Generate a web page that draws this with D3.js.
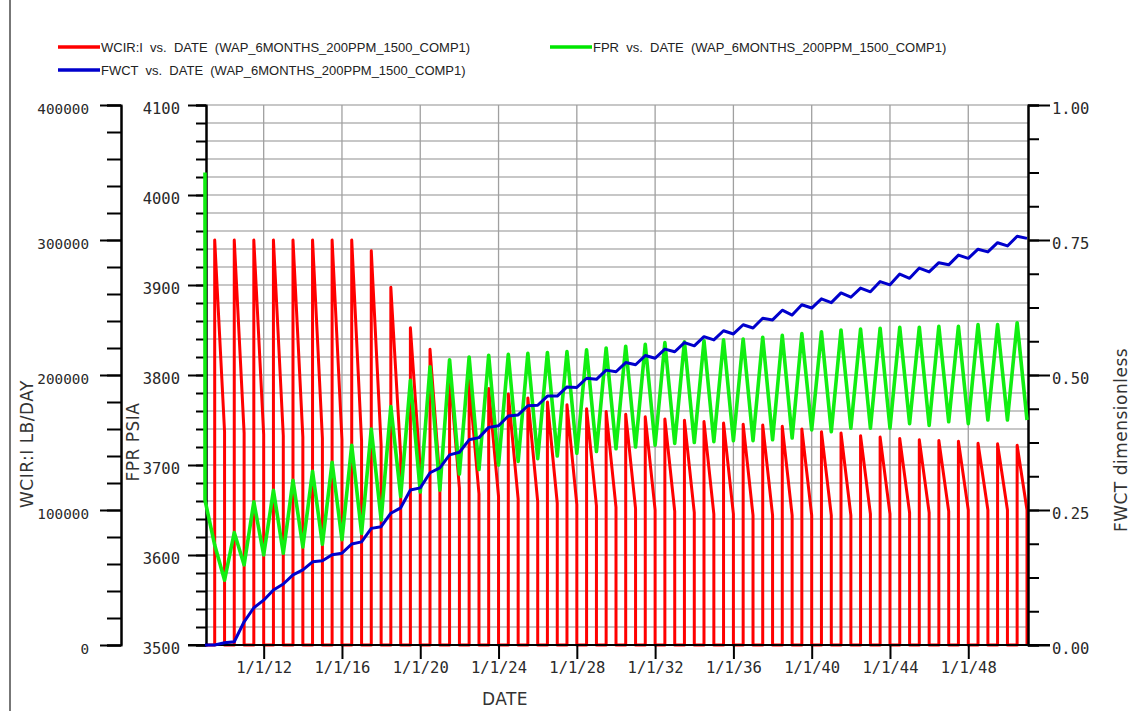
<!DOCTYPE html>
<html>
<head>
<meta charset="utf-8">
<script src="https://cdn.jsdelivr.net/npm/d3@7"></script>
<style>
  body { margin: 0; background: #fff; }
  svg { display: block; }
  .tick text { font-family: "DejaVu Sans Mono", monospace; fill: #2a2a2a; }
  .title { font-family: "DejaVu Sans", sans-serif; font-size: 17px; fill: #333; letter-spacing: 0.5px; }
  .legend text { font-family: "Liberation Sans", Arial, sans-serif; font-size: 13px; fill: #222; white-space: pre; }
</style>
</head>
<body>
<div id="wrapper"></div>
<script>
// one injection cycle per year: rate jumps up on 1 Jul, declines, shut in on 1 Jan
const cycleYears = [2009, 2010, 2011, 2012, 2013, 2014, 2015, 2016, 2017, 2018, 2019, 2020, 2021, 2022,
  2023, 2024, 2025, 2026, 2027, 2028, 2029, 2030, 2031, 2032, 2033, 2034, 2035, 2036,
  2037, 2038, 2039, 2040, 2041, 2042, 2043, 2044, 2045, 2046, 2047, 2048, 2049, 2050];
const wcirPeak = [300000, 300000, 300000, 300000, 300000, 300000, 300000, 300000, 292000, 265000,
  235000, 219000, 205000, 196000, 190000, 186000, 183000, 180000, 178000, 175000,
  173000, 171000, 169000, 167500, 166500, 165500, 164500, 163500, 163000, 162000,
  160000, 158000, 157000, 155000, 154000, 153000, 152000, 151500, 151000, 149500,
  149000, 148000];
const wcirEnd = [158000, 157000, 156000, 155000, 154000, 153000, 152000, 151000, 148000, 140000,
  130000, 122000, 116000, 112000, 110000, 108000, 106000, 105000, 104000, 103000,
  102000, 101000, 100000, 99000, 98000, 97000, 97000, 96000, 96000, 96000,
  96000, 96000, 96000, 97000, 97000, 98000, 98000, 99000, 100000, 100000,
  100000, 100000];

// FPR and FWCT every half year from 1 Jan 2009 to 1 Jan 2051 (Jan, Jul per row)
const fprInitial = 4025;
const fprHalfYear = [
  3661, 3611, 3572, 3625, 3589, 3659, 3600, 3672, 3602, 3683,
  3609, 3693, 3612, 3703, 3617, 3722, 3624, 3740, 3639, 3765,
  3665, 3794, 3670, 3809, 3672, 3817, 3690, 3820, 3695, 3822,
  3700, 3823, 3704, 3824, 3707, 3825, 3710, 3826, 3713, 3828,
  3715, 3830, 3718, 3832, 3720, 3834, 3722, 3836, 3724, 3837,
  3725, 3838, 3726, 3839, 3727, 3840, 3727, 3842, 3728, 3844,
  3730, 3846, 3739, 3848, 3737, 3850, 3741, 3851, 3741, 3852,
  3741, 3853, 3746, 3853, 3744, 3854, 3748, 3854, 3746, 3856,
  3750, 3856, 3750, 3858, 3750];
const fwctHalfYear = [
  0, 0, 0.004, 0.006, 0.043, 0.069, 0.083, 0.102, 0.113, 0.130,
  0.139, 0.154, 0.156, 0.167, 0.170, 0.187, 0.191, 0.216, 0.219, 0.244,
  0.254, 0.287, 0.291, 0.319, 0.328, 0.352, 0.357, 0.380, 0.384, 0.403,
  0.406, 0.424, 0.426, 0.443, 0.444, 0.461, 0.461, 0.478, 0.477, 0.494,
  0.492, 0.509, 0.506, 0.523, 0.519, 0.536, 0.531, 0.548, 0.543, 0.560,
  0.554, 0.571, 0.565, 0.582, 0.576, 0.593, 0.587, 0.605, 0.602, 0.620,
  0.611, 0.630, 0.624, 0.641, 0.634, 0.652, 0.644, 0.661, 0.654, 0.673,
  0.667, 0.687, 0.679, 0.698, 0.691, 0.708, 0.704, 0.722, 0.716, 0.733,
  0.728, 0.745, 0.739, 0.757, 0.753];

const dateTickYears = [2012, 2016, 2020, 2024, 2028, 2032, 2036, 2040, 2044, 2048];
const wcirTicks = [0, 100000, 200000, 300000, 400000];
const fprTicks = [3500, 3600, 3700, 3800, 3900, 4000, 4100];
const fwctTicks = [0, 0.25, 0.5, 0.75, 1];
const legendItems = [
  { label: "WCIR:I  vs.  DATE  (WAP_6MONTHS_200PPM_1500_COMP1)", color: "#ff0000", x: 58, y: 47 },
  { label: "FWCT  vs.  DATE  (WAP_6MONTHS_200PPM_1500_COMP1)", color: "#0000cc", x: 58, y: 70 },
  { label: "FPR  vs.  DATE  (WAP_6MONTHS_200PPM_1500_COMP1)", color: "#00e600", x: 550, y: 47 }
];

function drawChart() {
  let dimensions = {
    width: 1133,
    height: 711,
    left: 206,
    right: 1028,
    top: 105,
    bottom: 645
  }

  const svg = d3.select("#wrapper").append("svg")
    .attr("width", dimensions.width)
    .attr("height", dimensions.height);

  svg.append("line")
    .attr("x1", 10).attr("x2", 10).attr("y1", 0).attr("y2", dimensions.height)
    .attr("stroke", "#777").attr("stroke-width", 2);

  const start = new Date(2009, 0, 1);
  const xScale = d3.scaleTime()
    .domain([start, new Date(2051, 0, 1)])
    .range([205, 1027]);
  const wcirScale = d3.scaleLinear().domain([0, 400000]).range([dimensions.bottom, dimensions.top]);
  const fprScale = d3.scaleLinear().domain([3500, 4100]).range([dimensions.bottom, dimensions.top]);
  const fwctScale = d3.scaleLinear().domain([0, 1]).range([dimensions.bottom, dimensions.top]);

  // grid
  const grid = svg.append("g");
  grid.selectAll(".hgrid")
    .data(fprScale.ticks(30).filter(d => d > 3500))
    .enter().append("line")
    .attr("x1", dimensions.left).attr("x2", dimensions.right)
    .attr("y1", d => fprScale(d)).attr("y2", d => fprScale(d))
    .attr("stroke", "#b4b4b4").attr("stroke-width", 1.3);
  const dateTicks = dateTickYears.map(y => new Date(y, 0, 1));
  grid.selectAll(".vgrid")
    .data(dateTicks)
    .enter().append("line")
    .attr("x1", d => xScale(d)).attr("x2", d => xScale(d))
    .attr("y1", dimensions.top).attr("y2", dimensions.bottom)
    .attr("stroke", "#a0a0a0").attr("stroke-width", 1.3);

  // WCIR:I
  let wcirPoints = [[start, 0]];
  cycleYears.forEach((yr, i) => {
    const up = new Date(yr, 6, 1);
    const down = new Date(yr + 1, 0, 1);
    wcirPoints.push([up, 0], [up, wcirPeak[i]], [down, wcirEnd[i]], [down, 0]);
  });
  const wcirLine = d3.line().x(d => xScale(d[0])).y(d => wcirScale(d[1]));
  svg.append("path")
    .attr("d", wcirLine(wcirPoints))
    .attr("fill", "none").attr("stroke", "#ff0000")
    .attr("stroke-width", 3).attr("stroke-linejoin", "round");

  // axes
  const axisStyle = (g, size) => {
    g.select(".domain").attr("stroke", "#000").attr("stroke-width", 2);
    g.selectAll(".tick line").attr("stroke", "#000").attr("stroke-width", 2);
    g.selectAll(".tick text").style("font-size", size + "px");
  };
  const wcirMinor = svg.append("g").attr("transform", "translate(121,0)")
    .call(d3.axisLeft(wcirScale).tickValues(wcirScale.ticks(20)).tickSize(14).tickFormat(""));
  axisStyle(wcirMinor, 14);
  const wcirAxis = svg.append("g").attr("transform", "translate(121,0)")
    .call(d3.axisLeft(wcirScale).tickValues(wcirTicks).tickSize(21).tickSizeOuter(0).tickPadding(11).tickFormat(d3.format("d")));
  axisStyle(wcirAxis, 14.3);
  wcirAxis.selectAll(".tick text").attr("dy", "0.6em");

  const fprMinor = svg.append("g").attr("transform", `translate(${dimensions.left},0)`)
    .call(d3.axisLeft(fprScale).tickValues(fprScale.ticks(30)).tickSize(10).tickFormat(""));
  axisStyle(fprMinor, 14);
  const fprAxis = svg.append("g").attr("transform", `translate(${dimensions.left},0)`)
    .call(d3.axisLeft(fprScale).tickValues(fprTicks).tickSize(18).tickSizeOuter(0).tickPadding(8).tickFormat(d3.format("d")));
  axisStyle(fprAxis, 15.5);
  fprAxis.selectAll(".tick text").attr("dy", "0.57em");

  const fwctMinor = svg.append("g").attr("transform", `translate(${dimensions.right},0)`)
    .call(d3.axisRight(fwctScale).tickValues(d3.range(0, 1.0001, 0.0625)).tickSize(11).tickFormat(""));
  axisStyle(fwctMinor, 14);
  const fwctAxis = svg.append("g").attr("transform", `translate(${dimensions.right},0)`)
    .call(d3.axisRight(fwctScale).tickValues(fwctTicks).tickSize(22).tickSizeOuter(0).tickPadding(2).tickFormat(d3.format(".2f")));
  axisStyle(fwctAxis, 15.5);
  fwctAxis.selectAll(".tick text").attr("dy", "0.57em");

  const dateAxis = svg.append("g").attr("transform", `translate(0,${dimensions.bottom})`)
    .call(d3.axisBottom(xScale).tickValues(dateTicks).tickSize(14).tickSizeOuter(0).tickPadding(3).tickFormat(d3.timeFormat("%-m/%-d/%y")));
  axisStyle(dateAxis, 15.5);
  dateAxis.select(".domain").attr("d", `M${dimensions.left - 18},0H${dimensions.right + 22}`);

  // FPR and FWCT
  const halfYear = i => d3.timeMonth.offset(start, 6 * i);
  const fprLine = d3.line().x(d => xScale(d[0])).y(d => fprScale(d[1]));
  const fprPoints = [[start, fprInitial]].concat(fprHalfYear.map((v, i) => [halfYear(i), v]));
  svg.append("path")
    .attr("d", fprLine(fprPoints))
    .attr("fill", "none").attr("stroke", "#11ee11")
    .attr("stroke-width", 3.6).attr("stroke-linejoin", "round");

  const fwctLine = d3.line().x(d => xScale(d[0])).y(d => fwctScale(d[1]));
  svg.append("path")
    .attr("d", fwctLine(fwctHalfYear.map((v, i) => [halfYear(i), v])))
    .attr("fill", "none").attr("stroke", "#0000cc")
    .attr("stroke-width", 3).attr("stroke-linejoin", "round");

  // titles
  svg.append("text").attr("class", "title")
    .attr("transform", "translate(33,444) rotate(-90)")
    .attr("text-anchor", "middle").text("WCIR:I  LB/DAY");
  svg.append("text").attr("class", "title")
    .attr("transform", "translate(139,442) rotate(-90)")
    .attr("text-anchor", "middle").text("FPR  PSIA");
  svg.append("text").attr("class", "title")
    .attr("transform", "translate(1127,440) rotate(-90)")
    .attr("text-anchor", "middle").text("FWCT  dimensionless");
  svg.append("text").attr("class", "title")
    .attr("x", 505).attr("y", 705)
    .attr("text-anchor", "middle").text("DATE");

  // legend
  const legend = svg.append("g").attr("class", "legend");
  const items = legend.selectAll("g").data(legendItems).enter().append("g")
    .attr("transform", d => `translate(${d.x},${d.y})`);
  items.append("line")
    .attr("x1", 0).attr("x2", 42).attr("y1", 0).attr("y2", 0)
    .attr("stroke", d => d.color).attr("stroke-width", 3.5);
  items.append("text")
    .attr("x", 43).attr("y", 5)
    .text(d => d.label);
}
drawChart()
</script>
</body>
</html>
